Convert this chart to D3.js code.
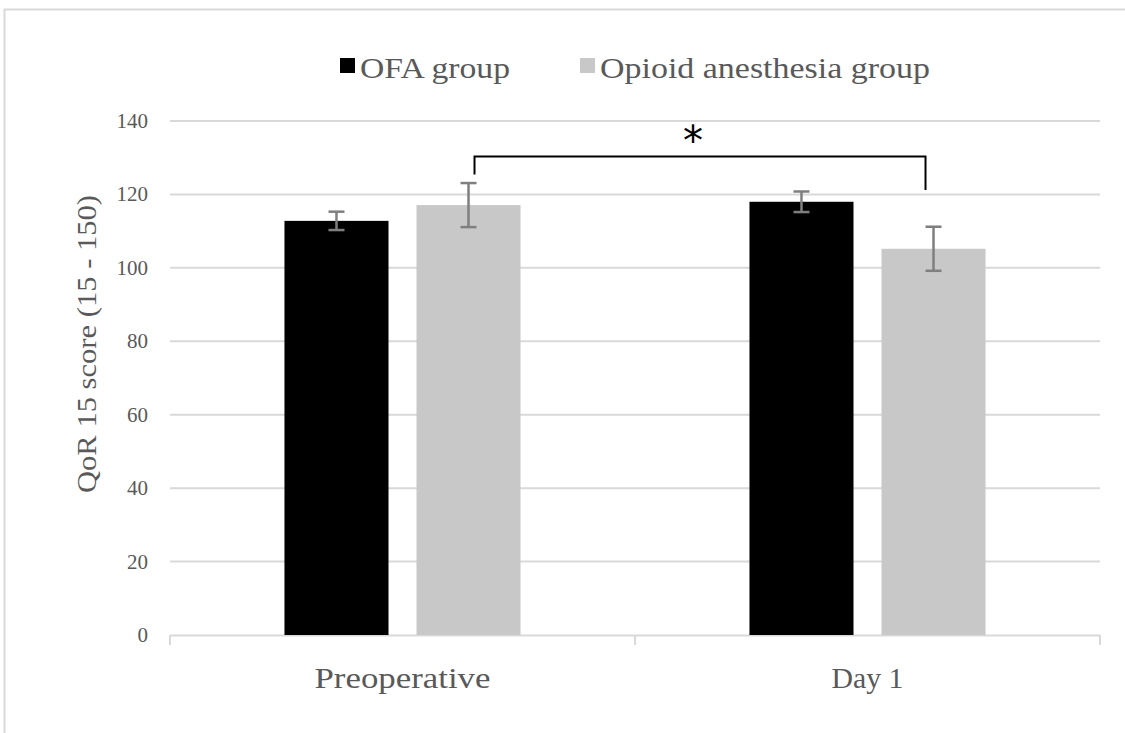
<!DOCTYPE html>
<html>
<head>
<meta charset="utf-8">
<script src="https://cdn.jsdelivr.net/npm/d3@7"></script>
<style>
  body { margin: 0; background: #fff; }
  text { font-family: "Liberation Serif", "DejaVu Serif", serif; fill: #595959; }
</style>
</head>
<body>
<script>
// chart data
var categories = ["Preoperative", "Day 1"];
var seriesNames = ["OFA group", "Opioid anesthesia group"];
var seriesColors = ["#000000", "#c8c8c8"];
var ofaValues = [112.8, 118.0];
var ofaErrors = [2.5, 2.8];
var opioidValues = [117.1, 105.2];
var opioidErrors = [6.0, 6.0];
var yTicks = [0, 20, 40, 60, 80, 100, 120, 140];

//frame dimensions
var width = 1125,
    height = 733;

var margin = {left: 170, right: 25, top: 121, bottom: 98};

var svg = d3.select("body")
    .append("svg")
    .attr("width", width)
    .attr("height", height);

//outer chart border
svg.append("rect")
    .attr("x", 4.5).attr("y", 9.5)
    .attr("width", width + 20).attr("height", height + 20)
    .attr("fill", "none")
    .attr("stroke", "#d9d9d9")
    .attr("stroke-width", 2);

var x = d3.scaleBand()
    .domain(categories)
    .range([margin.left, width - margin.right]);

var y = d3.scaleLinear()
    .domain([0, 140])
    .range([height - margin.bottom, margin.top]);

//bars inside a category
var inner = d3.scaleBand()
    .domain(seriesNames)
    .range([0, x.bandwidth()])
    .paddingInner(0.212)
    .paddingOuter(0.867);

//gridlines
svg.selectAll(".grid")
    .data(yTicks.slice(1))
    .enter()
    .append("line")
    .attr("x1", margin.left).attr("x2", width - margin.right)
    .attr("y1", function(d){ return y(d); })
    .attr("y2", function(d){ return y(d); })
    .attr("stroke", "#d9d9d9")
    .attr("stroke-width", 2);

//y tick labels
svg.selectAll(".ylab")
    .data(yTicks)
    .enter()
    .append("text")
    .attr("x", margin.left - 22)
    .attr("y", function(d){ return y(d) + 7; })
    .attr("text-anchor", "end")
    .style("font-size", "21px")
    .text(function(d){ return d; });

//x axis line and ticks
var xAxis = d3.axisBottom(x).tickSize(0).tickFormat("");
var xg = svg.append("g")
    .attr("transform", "translate(0," + y(0) + ")")
    .call(xAxis);
xg.select(".domain").attr("stroke", "#d9d9d9").attr("stroke-width", 2);
var bounds = [margin.left, x("Day 1"), width - margin.right];
xg.selectAll(".sep")
    .data(bounds)
    .enter()
    .append("line")
    .attr("x1", function(d){ return d; }).attr("x2", function(d){ return d; })
    .attr("y1", 0).attr("y2", 10)
    .attr("stroke", "#d9d9d9")
    .attr("stroke-width", 2);

//category labels
svg.selectAll(".xlab")
    .data(categories)
    .enter()
    .append("text")
    .attr("x", function(d){ return x(d) + x.bandwidth() / 2; })
    .attr("y", 688)
    .attr("text-anchor", "middle")
    .style("font-size", "29px")
    .attr("textLength", function(d){ return d == "Preoperative" ? 176 : 72; })
    .attr("lengthAdjust", "spacingAndGlyphs")
    .text(function(d){ return d; });

//build rows for bars
var rows = [];
categories.forEach(function(c, i){
    rows.push({cat: c, s: 0, v: ofaValues[i], e: ofaErrors[i]});
    rows.push({cat: c, s: 1, v: opioidValues[i], e: opioidErrors[i]});
});

function barX(d){ return x(d.cat) + inner(seriesNames[d.s]); }

svg.selectAll(".bar")
    .data(rows)
    .enter()
    .append("rect")
    .attr("x", barX)
    .attr("y", function(d){ return y(d.v); })
    .attr("width", inner.bandwidth())
    .attr("height", function(d){ return y(0) - y(d.v); })
    .attr("fill", function(d){ return seriesColors[d.s]; });

//error bars
var err = svg.selectAll(".err")
    .data(rows)
    .enter()
    .append("g")
    .attr("stroke", "#7f7f7f")
    .attr("stroke-width", 2.5);
err.append("line")
    .attr("x1", function(d){ return barX(d) + inner.bandwidth() / 2; })
    .attr("x2", function(d){ return barX(d) + inner.bandwidth() / 2; })
    .attr("y1", function(d){ return y(d.v + d.e); })
    .attr("y2", function(d){ return y(d.v - d.e); });
[1, -1].forEach(function(sign){
    err.append("line")
        .attr("x1", function(d){ return barX(d) + inner.bandwidth() / 2 - 8; })
        .attr("x2", function(d){ return barX(d) + inner.bandwidth() / 2 + 8; })
        .attr("y1", function(d){ return y(d.v + sign * d.e); })
        .attr("y2", function(d){ return y(d.v + sign * d.e); });
});

//significance bracket between opioid preop and opioid day 1
var bx1 = barX(rows[1]) + inner.bandwidth() / 2 + 6,
    bx2 = barX(rows[3]) + inner.bandwidth() / 2 - 8,
    by = y(130.3);
svg.append("path")
    .attr("d", "M" + bx1 + "," + y(125.4) + "V" + by + "H" + bx2 + "V" + y(121.2))
    .attr("fill", "none")
    .attr("stroke", "#000")
    .attr("stroke-width", 2);
svg.append("text")
    .attr("x", (bx1 + bx2) / 2 - 7)
    .attr("y", by - 2)
    .attr("text-anchor", "middle")
    .style("font-size", "40px")
    .style("fill", "#000")
    .style("font-family", "DejaVu Sans")
    .text("*");

//y axis title
svg.append("text")
    .attr("transform", "translate(96,344) rotate(-90)")
    .attr("text-anchor", "middle")
    .style("font-size", "28px")
    .attr("textLength", 298)
    .attr("lengthAdjust", "spacingAndGlyphs")
    .text("QoR 15 score (15 - 150)");

//legend
var legX = [340, 580];
var leg = svg.selectAll(".leg")
    .data(seriesNames)
    .enter()
    .append("g")
    .attr("transform", function(d, i){ return "translate(" + legX[i] + ",0)"; });
leg.append("rect")
    .attr("x", 0).attr("y", 58)
    .attr("width", 15).attr("height", 15)
    .attr("fill", function(d, i){ return seriesColors[i]; });
leg.append("text")
    .attr("x", 20).attr("y", 78)
    .style("font-size", "30px")
    .attr("textLength", function(d, i){ return i == 0 ? 150 : 330; })
    .attr("lengthAdjust", "spacingAndGlyphs")
    .text(function(d){ return d; });
</script>
</body>
</html>
